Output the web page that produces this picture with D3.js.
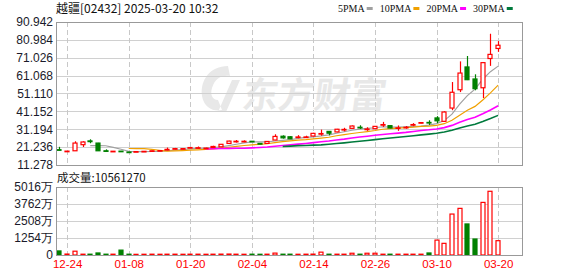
<!DOCTYPE html>
<html>
<head>
<meta charset="utf-8">
<script src="https://cdn.jsdelivr.net/npm/d3@7"></script>
<style>
  body { margin: 0; background: #fff; }
  svg { display: block; }
</style>
</head>
<body>
<svg id="chart" width="578" height="276"></svg>
<script>
// daily K-line data, 越疆 02432 (volume in 万股)
const dates = ['12-23','12-24','12-27','12-30','12-31','01-02','01-03','01-06','01-07','01-08',
  '01-09','01-10','01-13','01-14','01-15','01-16','01-17','01-20','01-21','01-22',
  '01-23','01-24','01-27','01-28','02-03','02-04','02-05','02-06','02-07','02-10',
  '02-11','02-12','02-13','02-14','02-17','02-18','02-19','02-20','02-21','02-24',
  '02-25','02-26','02-27','02-28','03-03','03-04','03-05','03-06','03-07','03-10',
  '03-11','03-12','03-13','03-14','03-17','03-18','03-19','03-20'];
const open = [19.8, 18.8, 19.2, 22.6, 24.7, 23.5, 19.2, 18.8, 19.0, 18.5,
  18.7, 18.8, 19.0, 19.1, 19.6, 20.1, 20.2, 20.8, 20.7, 20.6,
  21.0, 21.4, 23.3, 24.2, 24.3, 24.5, 23.3, 23.3, 25.2, 27.3,
  27.0, 26.7, 26.7, 27.4, 28.5, 30.0, 29.7, 30.8, 31.7, 32.3,
  31.1, 31.5, 33.5, 33.2, 31.8, 32.1, 33.5, 34.7, 35.0, 37.5,
  35.6, 43.0, 53.2, 65.9, 59.2, 54.3, 70.6, 76.2];
const close = [19.5, 19.0, 23.5, 24.1, 24.3, 19.2, 18.9, 18.95, 18.8, 18.4,
  18.75, 18.9, 19.2, 19.3, 20.0, 20.4, 20.4, 21.0, 20.9, 20.7,
  21.6, 22.8, 24.6, 24.5, 24.5, 24.3, 22.9, 24.4, 27.2, 26.4,
  25.9, 26.9, 26.9, 28.9, 28.8, 29.0, 31.2, 31.1, 33.0, 32.0,
  31.3, 32.8, 33.8, 31.9, 32.0, 32.3, 33.8, 34.9, 34.7, 35.9,
  40.8, 51.8, 62.5, 58.8, 53.8, 68.3, 72.9, 78.0];
const high = [21.4, 19.1, 24.5, 24.5, 25.6, 23.6, 20.0, 19.0, 19.1, 18.6,
  18.9, 19.0, 19.3, 19.4, 21.0, 20.8, 20.7, 21.3, 21.6, 20.9,
  22.0, 22.9, 24.8, 25.2, 25.0, 24.6, 23.4, 24.6, 28.4, 27.8,
  27.3, 27.9, 27.6, 29.2, 31.0, 30.2, 31.4, 32.0, 33.3, 33.4,
  32.3, 33.0, 35.3, 33.4, 33.3, 33.0, 34.6, 35.0, 36.2, 38.5,
  41.2, 57.5, 69.0, 72.0, 61.8, 68.5, 84.4, 80.3];
const low = [19.4, 18.7, 19.2, 21.3, 23.4, 19.1, 18.8, 18.7, 18.7, 18.2,
  18.6, 18.7, 18.9, 19.0, 19.5, 19.9, 20.0, 20.6, 20.5, 20.4,
  20.9, 21.3, 23.2, 23.8, 24.0, 24.2, 22.8, 23.2, 25.1, 26.0,
  25.7, 26.2, 26.5, 27.3, 27.6, 27.8, 29.5, 30.0, 31.5, 31.4,
  30.3, 31.3, 32.5, 31.8, 30.3, 31.5, 32.9, 34.5, 33.6, 34.6,
  35.3, 41.8, 51.9, 58.6, 52.9, 48.6, 66.5, 74.3];
const volume = [300, 70, 280, 60, 60, 150, 60, 60, 360, 60,
  50, 55, 60, 55, 60, 60, 55, 60, 60, 55,
  60, 65, 70, 60, 55, 60, 55, 60, 140, 60,
  60, 55, 60, 65, 210, 60, 60, 60, 130, 60,
  130, 130, 60, 60, 60, 60, 60, 60, 150, 1100,
  860, 3020, 3440, 2290, 1180, 3880, 4700, 1056];
const volFlip = ['03-10'];   // volume bar coloured opposite to its candle

const priceTicks = [11.278, 21.236, 31.194, 41.152, 51.110, 61.068, 71.026, 80.984, 90.942];
const volumeTicks = [0, 1254, 2508, 3762, 5016];
const dateTicks = ['12-24', '01-08', '01-20', '02-04', '02-14', '02-26', '03-10', '03-20'];
const maPeriods = [5, 10, 20, 30];
const maLabels = ['5PMA', '10PMA', '20PMA', '30PMA'];
const maColors = ['#a0a0a0', '#f0a000', '#ff00ff', '#007a3d'];

const title = '越疆[02432] 2025-03-20 10:32';
const volTitle = '成交量:10561270';

const RED = '#ff0000', GREEN = '#008000';
const L = 56, R = 522, pTop = 22, pBot = 165, vTop = 187, vBot = 255;
const n = close.length;

const svg = d3.select('#chart');
svg.append('rect').attr('width', 578).attr('height', 276).attr('fill', '#fff');

const x = d3.scaleLinear().domain([-0.45, 60.1]).range([L, R]);
const yP = d3.scaleLinear().domain([priceTicks[0], priceTicks[priceTicks.length - 1]]).range([pBot, pTop]);
const yV = d3.scaleLinear().domain([0, volumeTicks[volumeTicks.length - 1]]).range([vBot, vTop]);
const px = v => Math.round(v) + 0.5;

// watermark
const wm = svg.append('g').attr('fill', '#e8e8e8');
wm.append('path')
  .attr('d', 'M228,66 C210,66 200,80 202,96 C204,108 214,112 222,110 L218,100 C212,100 210,94 212,88 C215,78 222,75 230,76 Z M232,80 L240,80 L226,112 L218,112 Z');
wm.append('text')
  .attr('x', 242).attr('y', 108)
  .attr('font-family', '"Noto Sans CJK SC", sans-serif')
  .attr('font-weight', 'bold').attr('font-size', 36)
  .attr('transform', 'skewX(-8) translate(14,0)')
  .text('东方财富');

// grid
const grid = svg.append('g');
grid.selectAll('line.hp').data(priceTicks.slice(1, -1)).join('line')
  .attr('x1', L).attr('x2', R).attr('y1', d => px(yP(d))).attr('y2', d => px(yP(d)))
  .attr('stroke', '#d0d0d0');
grid.selectAll('line.hv').data(volumeTicks.slice(1, -1)).join('line')
  .attr('x1', L).attr('x2', R).attr('y1', d => px(yV(d))).attr('y2', d => px(yV(d)))
  .attr('stroke', '#d0d0d0');
const tickIdx = dateTicks.map(d => dates.indexOf(d));
[[pTop, pBot], [vTop, vBot]].forEach(([t, b]) => {
  grid.append('g').selectAll('line').data(tickIdx).join('line')
    .attr('x1', i => px(x(i))).attr('x2', i => px(x(i)))
    .attr('y1', t).attr('y2', b)
    .attr('stroke', '#c8c8c8').attr('stroke-dasharray', '5,3');
});

// moving averages
const maLine = d3.line().defined(d => d[1] != null).x(d => x(d[0])).y(d => yP(d[1]));
maPeriods.forEach((p, k) => {
  const ma = close.map((c, i) => [i, i < p - 1 ? null : d3.mean(close.slice(i - p + 1, i + 1))]);
  svg.append('path').datum(ma).attr('d', maLine)
    .attr('fill', 'none').attr('stroke', maColors[k]).attr('stroke-width', k > 1 ? 1.6 : 1.2);
});

// candles
const up = i => close[i] >= open[i];
const cg = svg.append('g');
const bw = 5;
cg.selectAll('line').data(d3.range(n)).join('line')
  .attr('x1', i => px(x(i))).attr('x2', i => px(x(i)))
  .attr('y1', i => yP(high[i])).attr('y2', i => yP(low[i]))
  .attr('stroke', i => up(i) ? RED : GREEN).attr('stroke-width', 1.2);
cg.selectAll('rect').data(d3.range(n)).join('rect')
  .attr('x', i => Math.round(x(i)) - 2)
  .attr('width', bw - 1)
  .attr('y', i => yP(Math.max(open[i], close[i])))
  .attr('height', i => Math.max(0.6, Math.abs(yP(open[i]) - yP(close[i]))))
  .attr('fill', i => up(i) ? '#fff' : GREEN)
  .attr('stroke', i => up(i) ? RED : GREEN).attr('stroke-width', 1.2);

// volume
const vUp = i => volFlip.includes(dates[i]) ? !up(i) : up(i);
svg.append('g').selectAll('rect').data(d3.range(n)).join('rect')
  .attr('x', i => Math.round(x(i)) - 2)
  .attr('width', bw - 1)
  .attr('y', i => yV(volume[i]))
  .attr('height', i => Math.max(0.6, yV(0) - yV(volume[i])))
  .attr('fill', i => vUp(i) ? '#fff' : GREEN)
  .attr('stroke', i => vUp(i) ? RED : GREEN).attr('stroke-width', 1.2);

// frames
[[pTop, pBot], [vTop, vBot]].forEach(([t, b]) => {
  svg.append('rect').attr('x', L + 0.5).attr('y', t + 0.5)
    .attr('width', R - L).attr('height', b - t)
    .attr('fill', 'none').attr('stroke', '#999');
});

// axes
const styleAxis = g => {
  g.select('.domain').remove();
  g.selectAll('line').remove();
  g.attr('font-family', '"Liberation Sans", Arial, sans-serif').attr('font-size', 12);
};
svg.append('g').attr('transform', `translate(${L},0)`)
  .call(d3.axisLeft(yP).tickValues(priceTicks).tickSize(0).tickPadding(3).tickFormat(d => d.toFixed(3)))
  .call(styleAxis)
  .selectAll('text').attr('fill', '#1a1a2a');
svg.append('g').attr('transform', `translate(${L},0)`)
  .call(d3.axisLeft(yV).tickValues(volumeTicks).tickSize(0).tickPadding(3).tickFormat(d => d === 0 ? '0' : d + '万'))
  .call(styleAxis)
  .selectAll('text').attr('fill', '#1a1a2a');
svg.append('g').attr('transform', `translate(0,${vBot})`)
  .call(d3.axisBottom(x).tickValues(tickIdx).tickSize(0).tickPadding(5).tickFormat(i => dates[i]))
  .call(styleAxis)
  .selectAll('text').attr('fill', RED).attr('font-size', 11.5);

// title & volume caption
svg.append('text').attr('x', 56).attr('y', 13)
  .attr('font-family', '"Noto Sans CJK SC", sans-serif').attr('font-size', 12)
  .attr('fill', '#111').text(title);
svg.append('text').attr('x', 57).attr('y', 182)
  .attr('font-family', '"Noto Sans CJK SC", sans-serif').attr('font-size', 11.5)
  .attr('fill', '#111').text(volTitle);

// legend
const lg = svg.append('g');
let lx = 338;
maLabels.forEach((lab, k) => {
  const t = lg.append('text').attr('x', lx).attr('y', 12)
    .attr('font-family', '"Liberation Serif", serif').attr('font-size', 10)
    .attr('fill', '#111').text(lab);
  const w = t.node().getComputedTextLength();
  lg.append('rect').attr('x', lx + w + 2).attr('y', 7).attr('width', 6).attr('height', 3)
    .attr('fill', maColors[k]);
  lx += w + 2 + 6 + 7;
});
</script>
</body>
</html>
